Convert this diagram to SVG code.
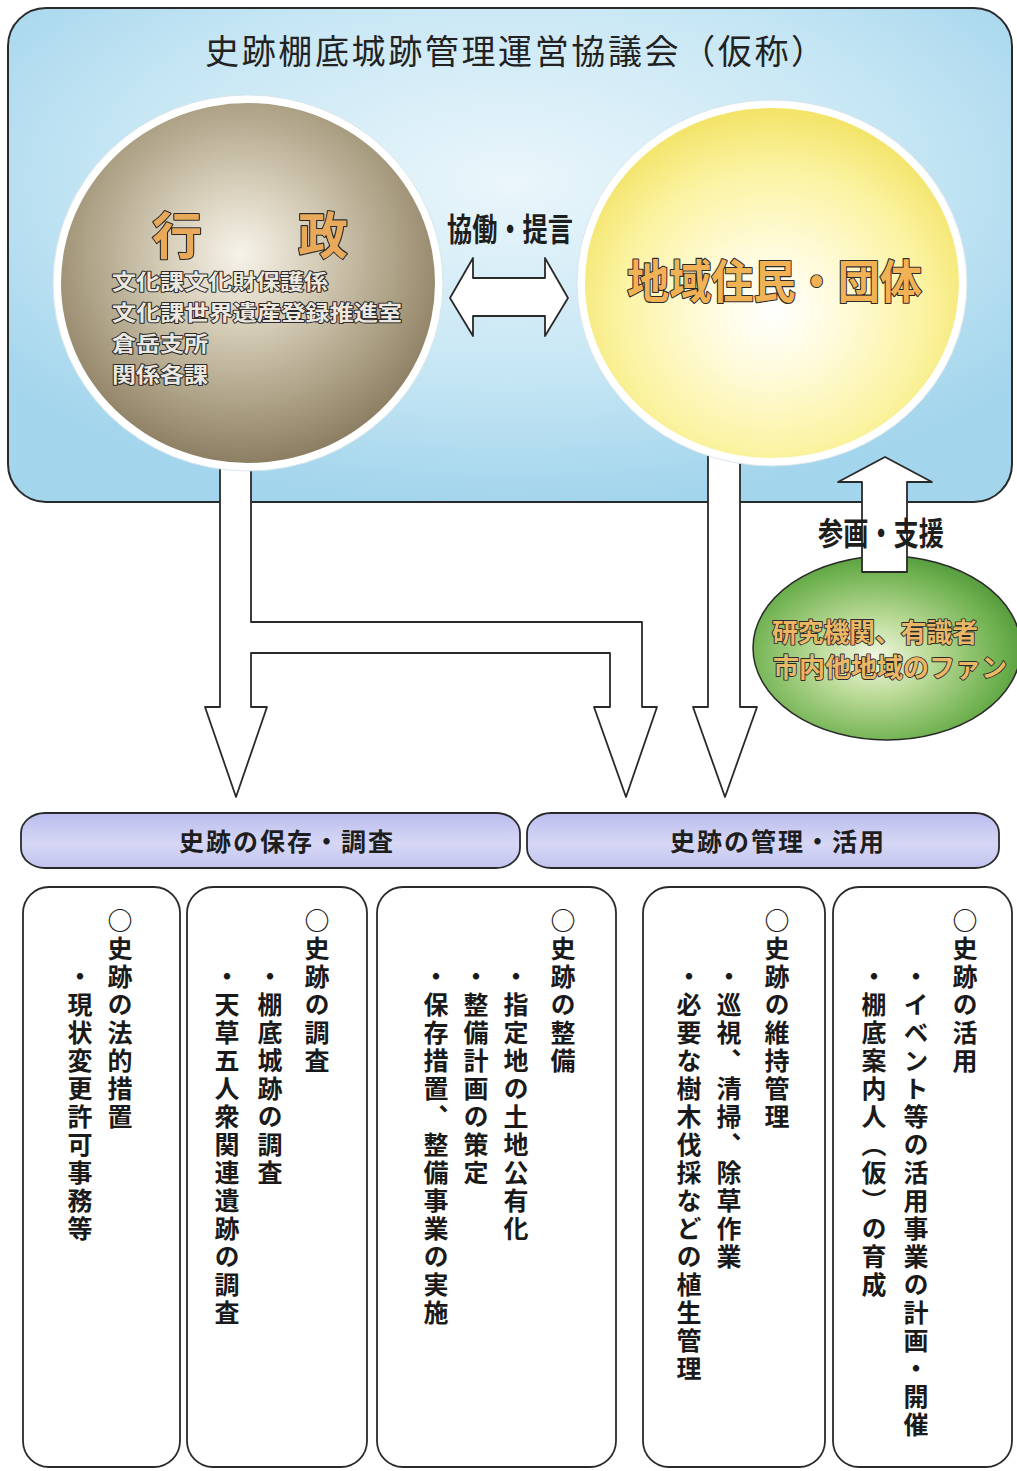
<svg xmlns="http://www.w3.org/2000/svg" width="1017" height="1471" viewBox="0 0 1017 1471">
<defs>
<radialGradient id="gBlue" cx="50%" cy="35%" r="65%">
<stop offset="0" stop-color="#eaf6fb"/>
<stop offset="0.6" stop-color="#c6e6f4"/>
<stop offset="1" stop-color="#a3d5ec"/>
</radialGradient>
<radialGradient id="gGov" cx="48%" cy="42%" r="58%">
<stop offset="0" stop-color="#f7f3ea"/>
<stop offset="0.35" stop-color="#d6cdb8"/>
<stop offset="0.75" stop-color="#aa9e82"/>
<stop offset="1" stop-color="#8c7e63"/>
</radialGradient>
<radialGradient id="gRes" cx="50%" cy="58%" r="58%">
<stop offset="0" stop-color="#ffffff"/>
<stop offset="0.3" stop-color="#fffbdc"/>
<stop offset="0.7" stop-color="#fbf3a2"/>
<stop offset="1" stop-color="#f3e367"/>
</radialGradient>
<radialGradient id="gGreen" cx="45%" cy="55%" r="60%">
<stop offset="0" stop-color="#f2f7e4"/>
<stop offset="0.35" stop-color="#bcdb98"/>
<stop offset="0.8" stop-color="#6db04e"/>
<stop offset="1" stop-color="#4f9538"/>
</radialGradient>
<linearGradient id="gBar" x1="0" y1="0" x2="0" y2="1">
<stop offset="0" stop-color="#babdee"/>
<stop offset="0.55" stop-color="#d6d7f5"/>
<stop offset="1" stop-color="#c2c4ef"/>
</linearGradient>
<style>
.jp{font-family:"Noto Sans CJK JP","Noto Sans CJK SC",sans-serif;}
.ln{fill:#ffffff;stroke:#2a2a2a;stroke-width:1.8;stroke-linejoin:round;}
.title{font-size:34px;fill:#222;}
.lbl{font-size:32px;font-weight:bold;fill:#1e1e1e;}
.outl{stroke:#2b2b2b;stroke-width:2.2;paint-order:stroke;stroke-linejoin:round;font-weight:bold;}
.bar{fill:url(#gBar);stroke:#2a2a2a;stroke-width:1.8;}
.bartxt{font-size:25px;fill:#1e1e1e;letter-spacing:2px;text-anchor:middle;font-weight:bold;}
.col{fill:#ffffff;stroke:#2a2a2a;stroke-width:1.8;}
.vt{writing-mode:vertical-rl;font-size:25px;letter-spacing:3px;fill:#1a1a1a;font-weight:bold;}
</style>
</defs>

<g id="council">
<rect x="8" y="8" width="1004" height="494" rx="38" ry="38" fill="url(#gBlue)" stroke="#2a2a2a" stroke-width="2"/>
<text class="jp title" x="205" y="64" textLength="620" lengthAdjust="spacing">史跡棚底城跡管理運営協議会（仮称）</text>
</g>

<g id="connectors">
<path class="ln" d="M220,430 L220,707 L205,707 L236,797 L267,707 L251,707 L251,653 L610,653 L610,707 L594,707 L626,797 L657,707 L642,707 L642,622 L251,622 L251,430 Z"/>
<path class="ln" d="M708,420 L708,707 L693,707 L725,797 L757,707 L740,707 L740,420 Z"/>
<path class="ln" d="M450,298 L473,258 L473,278 L545,278 L545,258 L568,298 L545,336 L545,316 L473,316 L473,336 Z"/>
<text class="jp lbl" x="447" y="241" textLength="126" lengthAdjust="spacingAndGlyphs">協働・提言</text>
</g>

<g id="gov">
<ellipse cx="248" cy="283" rx="195" ry="188" fill="#ffffff" stroke="#d8e6ec" stroke-width="1"/>
<ellipse cx="248" cy="283" rx="187" ry="180" fill="url(#gGov)"/>
<text class="jp outl" x="152" y="254" font-size="50" fill="#e9a95a">行</text>
<text class="jp outl" x="298" y="254" font-size="50" fill="#e9a95a">政</text>
<g class="jp outl" font-size="21" fill="#ece8e0" style="stroke-width:2">
<text x="112" y="289" textLength="216" lengthAdjust="spacingAndGlyphs">文化課文化財保護係</text>
<text x="112" y="320" textLength="290" lengthAdjust="spacingAndGlyphs">文化課世界遺産登録推進室</text>
<text x="112" y="351" textLength="96" lengthAdjust="spacingAndGlyphs">倉岳支所</text>
<text x="112" y="382" textLength="96" lengthAdjust="spacingAndGlyphs">関係各課</text>
</g>
</g>

<g id="residents">
<ellipse cx="772" cy="283" rx="195" ry="183" fill="#ffffff" stroke="#d8e6ec" stroke-width="1"/>
<ellipse cx="772" cy="283" rx="187" ry="175" fill="url(#gRes)"/>
<text class="jp outl" x="627" y="298" font-size="46" fill="#f0b255" textLength="295" lengthAdjust="spacingAndGlyphs">地域住民・団体</text>
</g>

<g id="supporters">
<ellipse cx="887" cy="648" rx="134" ry="92" fill="url(#gGreen)" stroke="#2a2a2a" stroke-width="1.5"/>
<text class="jp outl" x="772" y="642" font-size="26" fill="#eab766" style="stroke-width:1.8" textLength="206" lengthAdjust="spacingAndGlyphs">研究機関、有識者</text>
<text class="jp outl" x="773" y="677" font-size="26" fill="#eab766" style="stroke-width:1.8" textLength="234" lengthAdjust="spacingAndGlyphs">市内他地域のファン</text>
</g>

<g id="support-arrow">
<path class="ln" d="M862,572 L862,482 L838,482 L885,457 L932,482 L907,482 L907,572 Z"/>
<text class="jp lbl" x="818" y="545" textLength="126" lengthAdjust="spacingAndGlyphs">参画・支援</text>
</g>

<g id="bar-preserve">
<rect class="bar" x="21" y="813" width="499" height="55" rx="24" ry="20"/>
<text class="jp bartxt" x="287" y="851">史跡の保存・調査</text>
</g>
<g id="bar-manage">
<rect class="bar" x="527" y="813" width="472" height="55" rx="24" ry="20"/>
<text class="jp bartxt" x="778" y="851">史跡の管理・活用</text>
</g>

<g id="col-legal">
<rect class="col" x="23" y="887" width="157" height="580" rx="26" ry="26"/>
<text class="jp vt" x="120" y="908">○史跡の法的措置</text>
<text class="jp vt" x="80" y="964">・現状変更許可事務等</text>
</g>
<g id="col-survey">
<rect class="col" x="187" y="887" width="180" height="580" rx="26" ry="26"/>
<text class="jp vt" x="317" y="908">○史跡の調査</text>
<text class="jp vt" x="270" y="964">・棚底城跡の調査</text>
<text class="jp vt" x="227" y="964">・天草五人衆関連遺跡の調査</text>
</g>
<g id="col-maintain">
<rect class="col" x="377" y="887" width="239" height="580" rx="26" ry="26"/>
<text class="jp vt" x="563" y="908">○史跡の整備</text>
<text class="jp vt" x="516" y="964">・指定地の土地公有化</text>
<text class="jp vt" x="476" y="964">・整備計画の策定</text>
<text class="jp vt" x="436" y="964">・保存措置、整備事業の実施</text>
</g>
<g id="col-upkeep">
<rect class="col" x="643" y="887" width="182" height="580" rx="26" ry="26"/>
<text class="jp vt" x="777" y="908">○史跡の維持管理</text>
<text class="jp vt" x="729" y="964">・巡視、清掃、除草作業</text>
<text class="jp vt" x="689" y="964">・必要な樹木伐採などの植生管理</text>
</g>
<g id="col-use">
<rect class="col" x="833" y="887" width="179" height="580" rx="26" ry="26"/>
<text class="jp vt" x="965" y="908">○史跡の活用</text>
<text class="jp vt" x="916" y="964">・イベント等の活用事業の計画・開催</text>
<text class="jp vt" x="874" y="964">・棚底案内人（仮）の育成</text>
</g>
</svg>
